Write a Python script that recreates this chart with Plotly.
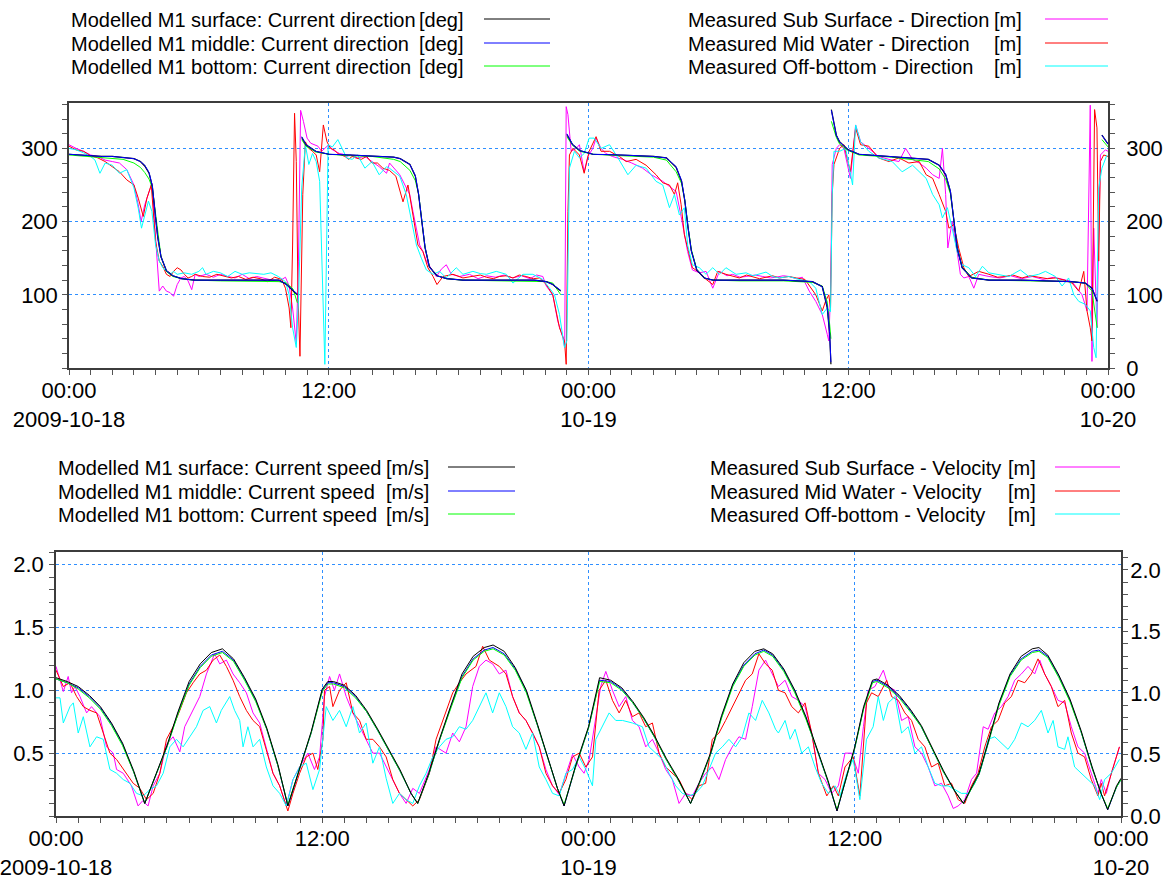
import pandas as pd
import plotly.graph_objects as go

W, H = 1173, 880
START = pd.Timestamp("2009-10-18 00:00")
FONT = "Liberation Sans, Arial, sans-serif"

# ------------------------------------------------------------------ data
X_TICK_HOURS = [0, 12, 24, 36, 48]
X_TICK_TEXT = ["00:00<br>2009-10-18", "12:00", "00:00<br>10-19", "12:00", "00:00<br>10-20"]

# Modelled current direction [deg] (None = break at 0/360 wrap)
MODEL_DIR_HOURS = [0, 0.5, 1, 1.5, 2, 2.5, 3.0, 3.3, 3.5, 3.7, 3.85, 4.0, 4.1, 4.25, 4.5, 4.8, 5.2, 5.8, 7, 8.5, 9.7,
                   10.05, 10.35, 10.55, 10.65, 10.75, 10.95, 11.4, 12.0, 13, 14, 15.0, 15.3, 15.75, 16.0, 16.15, 16.3,
                   16.45, 16.65, 17.0, 17.45, 18.2, 20, 21.5, 22.05, 22.35, 22.72, 22.85, 23.0, 23.27, 23.6, 24.2,
                   25.5, 27.0, 27.6, 28.05, 28.3, 28.45, 28.6, 28.75, 29.0, 29.35, 29.75, 31, 33, 34.35, 34.8, 35.03,
                   35.14, 35.2, 35.21, 35.22, 35.45, 35.6, 36.0, 36.5, 38, 39.7, 40.2, 40.5, 40.72, 40.88, 41.03,
                   41.26, 41.7, 42.5, 44, 46.3, 46.95, 47.26, 47.5, 47.6, 47.72, 48.0]
MODEL_DIR_SURFACE = [292, 291, 290, 289, 289, 288, 286, 282, 276, 266, 248, 205, 178, 152, 133, 126, 122, 120, 120, 120, 120,
                     114, 105, 100, None, 315, 305, 296, 292, 291, 290, 288, 286, 278, 262, 237, 200,
                     164, 138, 126, 122, 120, 120, 120, 118, 114, 105, None, 319, 305, 297, 292,
                     291, 289, 287, 274, 255, 228, 191, 160, 134, 123, 120, 120, 120, 118, 111, 82,
                     46, 5, None, 353, 318, 309, 298, 292, 289, 285, 277, 264, 241, 200, 164,
                     137, 123, 120, 120, 118, 116, 109, 91, None, 318, 306]
MODEL_DIR_MIDDLE = [292, 291, 290, 289, 289, 288, 286, 282, 277, 267, 249, 206, 179, 152, 133, 126, 122, 120, 120, 120, 120,
                    114, 106, 101, None, 316, 305, 296, 292, 291, 290, 288, 286, 278, 263, 238, 201,
                    165, 138, 126, 122, 120, 120, 120, 118, 114, 106, None, 320, 305, 297, 292,
                    291, 289, 287, 275, 256, 229, 192, 160, 134, 123, 120, 120, 120, 118, 111, 84,
                    48, 8, None, 352, 318, 309, 298, 292, 289, 285, 277, 265, 242, 201, 165,
                    137, 123, 120, 120, 118, 116, 109, 92, None, 318, 306]
MODEL_DIR_BOTTOM = [291, 290, 289, 288, 287, 285, 280, 274, 267, 258, 246, 210, 180, 152, 132, 125, 122, 120, 119, 119, 118,
                    116, 108, 89, None, 312, 303, 295, 292, 290, 289, 285, 282, 270, 256, 238, 203,
                    165, 138, 126, 122, 120, 119, 119, 118, 116, 100, None, 316, 304, 296, 292,
                    290, 288, 284, 268, 252, 230, 193, 162, 135, 123, 120, 119, 119, 117, 112, 90,
                    60, 40, None, 337, 315, 306, 297, 291, 288, 282, 272, 258, 238, 202, 166,
                    138, 124, 120, 119, 118, 116, 105, 55, None, 312, 302]

# Measured direction (hour, value)
SUB_DIR = [(0, 305), (0.33, 300), (0.67, 296), (1.0, 291), (1.33, 289), (1.67, 284), (2.0, 282), (2.33, 280), (2.67, 271),
           (3.0, 250), (3.2, 223), (3.33, 200), (3.5, 223), (3.67, 237), (3.83, 252), (4.0, 178), (4.17, 105), (4.33, 112),
           (4.5, 105), (4.67, 103), (4.83, 98), (5.0, 114), (5.17, 123), (5.33, 125), (5.5, 119), (5.67, 107), (5.83, 128),
           (6.0, 125), (6.33, 128), (6.67, 124), (7.0, 128), (7.33, 125), (7.67, 123), (8.0, 128), (8.33, 122), (8.67, 125),
           (9.0, 123), (9.33, 121), (9.67, 118), (10.0, 124), (10.17, 112), (10.33, 82), (10.5, 34), (10.6, 146), (10.7, 352),
           (10.83, 337), (11.0, 314), (11.17, 307), (11.33, 305), (11.5, 303), (11.67, 296), (11.83, 300), (12.0, 305),
           (12.17, 298), (12.33, 296), (12.5, 293), (12.67, 292), (12.83, 289), (13.0, 291), (13.33, 287), (13.67, 289),
           (14.0, 282), (14.33, 275), (14.67, 266), (14.81, 280), (15.28, 264), (15.5, 250), (15.74, 237), (15.89, 214),
           (16.05, 191), (16.2, 168), (16.35, 159), (16.51, 146), (16.82, 132), (16.97, 125), (17.2, 135), (17.43, 141),
           (17.66, 128), (18.05, 125), (18.5, 128), (18.9, 122), (19.3, 126), (19.7, 124), (20.1, 127), (20.5, 123),
           (20.9, 126), (21.3, 122), (21.6, 127), (21.89, 125), (22.05, 112), (22.35, 100), (22.58, 64), (22.82, 41),
           (22.9, 28), (22.97, 357), (23.05, 346), (23.2, 296), (23.43, 300), (23.58, 305), (23.8, 268), (23.97, 289),
           (24.2, 300), (24.35, 314), (24.58, 300), (24.8, 293), (25.1, 289), (25.57, 285), (26.0, 280), (26.5, 273),
           (26.9, 264), (27.43, 255), (27.74, 248), (28.05, 241), (28.28, 207), (28.43, 182), (28.58, 159), (28.8, 134),
           (29.12, 130), (29.43, 132), (29.74, 109), (30.05, 132), (30.4, 126), (30.66, 128), (31.0, 124), (31.28, 125),
           (31.7, 127), (32.05, 125), (32.4, 123), (32.66, 124), (33.0, 126), (33.26, 125), (33.6, 122), (33.88, 124),
           (34.2, 105), (34.5, 91), (34.8, 73), (35.03, 46), (35.1, 37), (35.18, 100), (35.26, 278), (35.45, 300),
           (35.6, 305), (35.8, 300), (36.1, 259), (36.34, 332), (36.57, 309), (36.95, 300), (37.4, 289), (37.88, 285),
           (38.34, 282), (38.65, 300), (38.97, 285), (39.28, 280), (39.6, 273), (39.9, 264), (40.2, 259), (40.35, 300),
           (40.5, 237), (40.6, 164), (40.8, 200), (41.03, 159), (41.18, 128), (41.34, 123), (41.57, 125), (41.8, 109),
           (42.03, 128), (42.5, 125), (43.0, 123), (43.5, 126), (44.0, 122), (44.5, 125), (45.0, 121), (45.5, 124),
           (46.0, 120), (46.34, 118), (46.8, 100), (47.03, 78), (47.18, 359), (47.26, 9), (47.34, 191), (47.49, 55),
           (47.65, 291), (47.88, 298), (48.0, 296)]
MID_DIR = [(0, 303), (0.33, 298), (0.67, 296), (1.0, 290), (1.33, 287), (1.67, 282), (2.0, 275), (2.33, 268), (2.67, 257),
           (3.0, 250), (3.2, 232), (3.43, 207), (3.6, 232), (3.8, 250), (4.0, 173), (4.17, 146), (4.33, 139), (4.5, 128),
           (4.67, 125), (4.83, 132), (5.0, 137), (5.17, 134), (5.33, 128), (5.5, 123), (5.67, 125), (5.83, 128), (6.17, 125),
           (6.5, 124), (6.83, 128), (7.17, 125), (7.5, 123), (7.83, 125), (8.17, 121), (8.5, 124), (8.83, 122), (9.17, 118),
           (9.5, 124), (9.83, 121), (10.0, 109), (10.17, 82), (10.25, 55), (10.33, 168), (10.42, 348), (10.5, 282),
           (10.58, 100), (10.67, 16), (10.8, 237), (10.92, 309), (11.08, 300), (11.25, 296), (11.42, 291), (11.58, 268),
           (11.75, 332), (11.92, 309), (12.08, 300), (12.25, 298), (12.42, 293), (12.58, 291), (12.75, 289), (12.92, 285),
           (13.08, 289), (13.25, 287), (13.5, 285), (13.75, 289), (14.0, 280), (14.25, 280), (14.5, 273), (14.8, 270),
           (15.1, 262), (15.43, 227), (15.66, 250), (15.89, 209), (16.12, 168), (16.35, 159), (16.58, 137), (16.82, 125),
           (17.0, 114), (17.28, 125), (17.74, 128), (18.2, 123), (18.66, 125), (19.0, 127), (19.28, 124), (19.6, 122),
           (19.89, 125), (20.2, 126), (20.51, 123), (20.8, 127), (21.12, 125), (21.45, 122), (21.74, 123), (22.05, 114),
           (22.35, 100), (22.66, 55), (22.89, 37), (22.97, 5), (23.05, 214), (23.12, 291), (23.28, 300), (23.58, 291),
           (23.8, 266), (24.03, 296), (24.35, 316), (24.58, 296), (24.97, 296), (25.43, 289), (25.74, 282), (26.2, 285),
           (26.66, 277), (27.12, 264), (27.43, 253), (27.74, 250), (27.97, 237), (28.12, 253), (28.28, 223), (28.43, 182),
           (28.58, 164), (28.8, 137), (29.05, 132), (29.35, 123), (29.74, 114), (29.97, 132), (30.35, 128), (30.66, 125),
           (30.97, 123), (31.3, 127), (31.58, 125), (31.9, 122), (32.2, 124), (32.5, 126), (32.82, 123), (33.26, 125),
           (33.6, 123), (34.0, 121), (34.5, 100), (34.8, 78), (34.95, 91), (35.1, 100), (35.18, 82), (35.26, 237),
           (35.34, 278), (35.6, 300), (35.8, 305), (36.1, 268), (36.34, 328), (36.57, 305), (36.95, 303), (37.4, 287),
           (37.88, 282), (38.34, 287), (38.8, 280), (39.28, 282), (39.6, 264), (39.9, 259), (40.2, 237), (40.5, 214),
           (40.65, 191), (40.88, 196), (41.1, 164), (41.34, 137), (41.57, 125), (42.03, 132), (42.5, 128), (42.9, 124),
           (43.26, 125), (43.6, 127), (44.03, 123), (44.4, 126), (44.8, 124), (45.2, 122), (45.57, 123), (46.0, 120),
           (46.34, 116), (46.65, 105), (46.88, 132), (47.03, 78), (47.18, 55), (47.26, 37), (47.38, 353), (47.49, 328),
           (47.57, 146), (47.65, 282), (47.8, 291), (48.0, 289)]
OFF_DIR = [(0, 300), (0.33, 298), (0.67, 294), (1.0, 289), (1.2, 284), (1.43, 266), (1.67, 280), (2.0, 277), (2.33, 266),
           (2.67, 271), (3.0, 246), (3.2, 218), (3.35, 191), (3.5, 209), (3.67, 228), (3.83, 214), (4.0, 168), (4.17, 146),
           (4.33, 137), (4.5, 132), (4.67, 128), (4.83, 132), (5.0, 128), (5.33, 130), (5.67, 128), (6.0, 132), (6.17, 137),
           (6.33, 128), (6.67, 132), (7.0, 130), (7.33, 125), (7.67, 132), (8.0, 128), (8.33, 130), (8.67, 129), (9.0, 128),
           (9.33, 130), (9.67, 125), (10.0, 118), (10.17, 100), (10.33, 55), (10.5, 28), (10.6, 91), (10.75, 246),
           (10.92, 305), (11.08, 278), (11.25, 293), (11.42, 282), (11.58, 255), (11.82, 5), (11.97, 305), (12.17, 302),
           (12.42, 312), (12.67, 298), (12.83, 287), (13.08, 285), (13.33, 291), (13.67, 273), (14.0, 282), (14.33, 264),
           (14.67, 275), (14.8, 273), (15.28, 262), (15.58, 237), (15.82, 200), (16.05, 168), (16.28, 150), (16.51, 134),
           (16.82, 128), (17.12, 132), (17.43, 123), (17.89, 137), (18.2, 128), (18.66, 132), (19.0, 129), (19.28, 128),
           (19.74, 132), (20.2, 128), (20.51, 116), (20.97, 128), (21.43, 128), (21.89, 121), (22.2, 109), (22.43, 100),
           (22.66, 73), (22.89, 28), (23.0, 37), (23.12, 273), (23.35, 296), (23.58, 287), (23.8, 293), (24.03, 314),
           (24.26, 314), (24.58, 300), (24.97, 305), (25.28, 291), (25.82, 264), (26.2, 277), (26.66, 273), (27.12, 255),
           (27.43, 250), (27.74, 219), (27.97, 237), (28.2, 209), (28.43, 219), (28.58, 168), (28.8, 141), (29.12, 137),
           (29.43, 128), (29.74, 137), (30.05, 128), (30.35, 137), (30.82, 128), (31.28, 130), (31.6, 126), (31.89, 128),
           (32.2, 131), (32.51, 125), (32.8, 123), (33.26, 125), (33.72, 121), (34.2, 118), (34.5, 109), (34.8, 73),
           (35.03, 82), (35.18, 77), (35.26, 237), (35.34, 296), (35.6, 296), (35.88, 300), (36.2, 250), (36.34, 332),
           (36.57, 309), (36.95, 296), (37.4, 287), (38.03, 282), (38.49, 268), (38.97, 277), (39.28, 268), (39.6, 259),
           (39.9, 237), (40.2, 223), (40.35, 205), (40.58, 219), (40.8, 191), (41.03, 159), (41.26, 141), (41.57, 137),
           (41.88, 125), (42.2, 139), (42.5, 130), (42.95, 128), (43.42, 125), (43.95, 134), (44.34, 125), (44.8, 128),
           (45.11, 132), (45.57, 125), (45.88, 112), (46.18, 123), (46.42, 100), (46.65, 91), (46.95, 87), (47.18, 78),
           (47.34, 28), (47.45, 14), (47.57, 246), (47.72, 273), (47.95, 291)]

# Modelled current speed [m/s]
MODEL_SPD_HOURS = [0, 0.5, 1, 1.5, 2, 2.5, 3, 3.5, 4.0, 4.5, 5, 5.5, 6, 6.5, 7, 7.5, 8, 8.5, 9, 9.5, 10, 10.45, 11, 11.5,
                   12, 12.25, 12.5, 13, 13.5, 14, 14.5, 15, 15.5, 16, 16.3, 16.8, 17.3, 17.8, 18.3, 18.8, 19.3, 19.7,
                   20.2, 20.7, 21.2, 21.7, 22.2, 22.6, 22.9, 23.4, 24, 24.5, 25, 25.5, 26, 26.5, 27, 27.5, 28, 28.6,
                   29, 29.5, 30, 30.5, 31, 31.5, 31.9, 32.3, 32.8, 33.3, 33.8, 34.3, 34.8, 35.2, 35.6, 36, 36.4, 36.8,
                   37, 37.5, 38, 38.5, 39, 39.5, 40, 40.5, 40.9, 41.3, 41.6, 42, 42.5, 43, 43.5, 44, 44.3, 44.7, 45.2,
                   45.7, 46.2, 46.7, 47.1, 47.4, 47.8, 48]
MODEL_SPD_SURFACE = [1.10, 1.07, 1.03, 0.96, 0.87, 0.74, 0.58, 0.36, 0.10, 0.33, 0.56, 0.83, 1.07, 1.21, 1.30, 1.33, 1.25,
                     1.10, 0.93, 0.70, 0.41, 0.08, 0.39, 0.67, 1.01, 1.07, 1.07, 1.04, 0.96, 0.84, 0.69, 0.53, 0.37,
                     0.18, 0.10, 0.34, 0.62, 0.88, 1.13, 1.27, 1.34, 1.36, 1.31, 1.18, 1.00, 0.73, 0.45, 0.22, 0.08,
                     0.39, 0.71, 1.10, 1.08, 1.02, 0.91, 0.78, 0.63, 0.46, 0.31, 0.10, 0.27, 0.50, 0.80, 1.05, 1.22,
                     1.31, 1.33, 1.29, 1.17, 1.00, 0.79, 0.54, 0.28, 0.04, 0.30, 0.55, 0.87, 1.08, 1.09, 1.04, 0.96,
                     0.85, 0.72, 0.54, 0.36, 0.20, 0.10, 0.24, 0.34, 0.58, 0.90, 1.13, 1.27, 1.33, 1.34, 1.28, 1.12,
                     0.93, 0.68, 0.39, 0.18, 0.05, 0.24, 0.30]
MODEL_SPD_MIDDLE = [1.09, 1.06, 1.02, 0.95, 0.86, 0.73, 0.57, 0.35, 0.10, 0.32, 0.55, 0.82, 1.05, 1.19, 1.28, 1.31, 1.24,
                    1.09, 0.92, 0.69, 0.40, 0.08, 0.38, 0.66, 1.00, 1.06, 1.06, 1.03, 0.95, 0.83, 0.68, 0.52, 0.36,
                    0.18, 0.10, 0.33, 0.61, 0.87, 1.11, 1.25, 1.32, 1.34, 1.29, 1.17, 0.99, 0.72, 0.44, 0.22, 0.08,
                    0.38, 0.70, 1.08, 1.07, 1.01, 0.90, 0.77, 0.62, 0.45, 0.30, 0.10, 0.26, 0.49, 0.79, 1.04, 1.20,
                    1.29, 1.32, 1.28, 1.16, 0.99, 0.78, 0.53, 0.27, 0.04, 0.29, 0.54, 0.86, 1.07, 1.08, 1.03, 0.95,
                    0.84, 0.71, 0.53, 0.35, 0.20, 0.10, 0.23, 0.33, 0.57, 0.89, 1.12, 1.25, 1.31, 1.32, 1.27, 1.11,
                    0.92, 0.67, 0.38, 0.18, 0.05, 0.23, 0.29]
MODEL_SPD_BOTTOM = [1.09, 1.06, 1.01, 0.94, 0.85, 0.72, 0.56, 0.35, 0.10, 0.32, 0.55, 0.81, 1.04, 1.18, 1.27, 1.30, 1.23,
                    1.08, 0.91, 0.69, 0.40, 0.09, 0.38, 0.66, 0.99, 1.05, 1.05, 1.02, 0.94, 0.83, 0.68, 0.52, 0.36,
                    0.18, 0.10, 0.33, 0.61, 0.86, 1.10, 1.24, 1.31, 1.33, 1.28, 1.16, 0.98, 0.72, 0.44, 0.22, 0.09,
                    0.38, 0.70, 1.07, 1.06, 1.00, 0.90, 0.77, 0.62, 0.45, 0.30, 0.10, 0.26, 0.49, 0.78, 1.03, 1.19,
                    1.28, 1.31, 1.27, 1.15, 0.98, 0.77, 0.53, 0.27, 0.05, 0.29, 0.54, 0.85, 1.06, 1.07, 1.02, 0.94,
                    0.83, 0.71, 0.53, 0.35, 0.20, 0.10, 0.23, 0.33, 0.57, 0.88, 1.11, 1.24, 1.30, 1.31, 1.26, 1.10,
                    0.91, 0.67, 0.38, 0.18, 0.06, 0.23, 0.29]

# Measured velocity (hour, value)
SUB_SPD = [(0.00, 1.19), (0.18, 1.08), (0.33, 0.99), (0.55, 1.11), (0.70, 0.98), (0.85, 1.03), (1.08, 0.95), (1.38, 0.82),
           (1.60, 0.87), (1.98, 0.79), (2.28, 0.55), (2.58, 0.50), (2.73, 0.37), (3.03, 0.34), (3.40, 0.24), (3.70, 0.08),
           (3.90, 0.12), (4.15, 0.08), (4.38, 0.24), (4.68, 0.34), (4.98, 0.57), (5.28, 0.63), (5.58, 0.51), (5.80, 0.71),
           (6.10, 0.82), (6.48, 0.95), (6.78, 1.13), (7.15, 1.29), (7.38, 1.21), (7.68, 1.24), (7.98, 1.13), (8.28, 1.06),
           (8.58, 0.98), (8.88, 0.82), (9.18, 0.74), (9.48, 0.53), (9.78, 0.34), (10.08, 0.24), (10.38, 0.08),
           (10.68, 0.29), (10.98, 0.39), (11.35, 0.50), (11.65, 0.37), (11.88, 0.47), (12.10, 0.95), (12.33, 1.11),
           (12.55, 1.00), (12.78, 1.13), (13.08, 0.95), (13.38, 0.82), (13.68, 0.71), (13.98, 0.61), (14.28, 0.50),
           (14.58, 0.50), (15.03, 0.34), (15.48, 0.18), (15.78, 0.10), (16.08, 0.22), (16.38, 0.18), (16.83, 0.37),
           (17.13, 0.55), (17.58, 0.50), (17.88, 0.66), (18.18, 0.59), (18.48, 0.71), (18.78, 1.03), (19.08, 1.19),
           (19.38, 1.24), (19.68, 1.21), (19.98, 1.13), (20.28, 1.16), (20.58, 0.95), (20.88, 0.82), (21.18, 0.76),
           (21.48, 0.66), (21.78, 0.55), (22.08, 0.37), (22.38, 0.24), (22.68, 0.17), (22.98, 0.34), (23.28, 0.49),
           (23.58, 0.39), (23.80, 0.34), (24.03, 0.45), (24.33, 0.79), (24.55, 1.03), (24.78, 1.15), (25.08, 1.00),
           (25.38, 0.87), (25.68, 0.95), (25.98, 0.76), (26.28, 0.71), (26.58, 0.55), (26.88, 0.61), (27.18, 0.50),
           (27.48, 0.37), (27.78, 0.29), (28.08, 0.10), (28.38, 0.18), (28.68, 0.16), (28.98, 0.26), (29.28, 0.34),
           (29.58, 0.39), (29.88, 0.29), (30.18, 0.45), (30.48, 0.55), (30.78, 0.63), (31.08, 0.61), (31.38, 0.87),
           (31.68, 1.16), (31.98, 1.24), (32.28, 1.13), (32.56, 1.03), (32.86, 1.08), (33.16, 0.95), (33.46, 0.92),
           (33.76, 0.87), (34.06, 0.66), (34.36, 0.34), (34.66, 0.29), (34.96, 0.18), (35.26, 0.24), (35.56, 0.50),
           (35.86, 0.50), (36.16, 0.34), (36.39, 0.71), (36.61, 1.00), (36.91, 1.03), (37.29, 1.16), (37.51, 1.03),
           (37.81, 1.00), (38.11, 0.76), (38.41, 0.79), (38.71, 0.55), (39.01, 0.50), (39.31, 0.39), (39.61, 0.24),
           (39.91, 0.26), (40.21, 0.16), (40.44, 0.06), (40.66, 0.08), (40.96, 0.13), (41.26, 0.29), (41.49, 0.34),
           (41.79, 0.71), (42.01, 0.69), (42.31, 0.82), (42.61, 0.87), (42.91, 0.95), (43.21, 1.08), (43.51, 1.13),
           (43.81, 1.19), (44.11, 1.13), (44.34, 1.24), (44.56, 1.13), (44.86, 1.03), (45.16, 0.92), (45.46, 0.90),
           (45.76, 0.71), (46.06, 0.55), (46.36, 0.50), (46.66, 0.34), (46.96, 0.18), (47.11, 0.29), (47.34, 0.18),
           (47.56, 0.34), (47.93, 0.55)]
MID_SPD = [(0.00, 1.16), (0.33, 1.03), (0.63, 1.06), (0.93, 0.95), (1.23, 0.87), (1.53, 0.84), (1.83, 0.82), (2.13, 0.66),
           (2.43, 0.50), (2.73, 0.45), (3.18, 0.34), (3.48, 0.26), (3.78, 0.22), (4.08, 0.13), (4.38, 0.18), (4.68, 0.34),
           (4.98, 0.61), (5.28, 0.71), (5.58, 0.84), (5.88, 0.98), (6.18, 1.06), (6.48, 1.13), (6.78, 1.16), (7.08, 1.24),
           (7.38, 1.28), (7.68, 1.19), (7.98, 1.08), (8.28, 0.95), (8.58, 0.84), (8.88, 0.76), (9.18, 0.71), (9.48, 0.53),
           (9.78, 0.34), (10.08, 0.24), (10.45, 0.04), (10.68, 0.18), (10.98, 0.34), (11.28, 0.47), (11.58, 0.50),
           (11.80, 0.37), (12.03, 0.61), (12.10, 1.00), (12.33, 1.03), (12.48, 0.87), (12.78, 1.00), (13.08, 1.06),
           (13.38, 0.82), (13.68, 0.76), (13.98, 0.61), (14.28, 0.61), (14.58, 0.55), (14.88, 0.47), (15.18, 0.29),
           (15.48, 0.18), (15.78, 0.13), (16.08, 0.08), (16.38, 0.13), (16.83, 0.34), (17.13, 0.61), (17.58, 0.84),
           (17.88, 0.98), (18.18, 1.06), (18.48, 1.13), (18.93, 1.19), (19.23, 1.35), (19.53, 1.24), (19.98, 1.19),
           (20.28, 1.13), (20.58, 0.95), (20.88, 0.82), (21.18, 0.76), (21.48, 0.66), (21.78, 0.55), (22.08, 0.34),
           (22.38, 0.24), (22.68, 0.18), (22.98, 0.29), (23.28, 0.47), (23.58, 0.50), (23.88, 0.39), (24.18, 0.47),
           (24.48, 1.00), (24.78, 1.08), (25.08, 0.92), (25.38, 0.82), (25.68, 0.92), (25.98, 0.79), (26.28, 0.82),
           (26.58, 0.71), (26.88, 0.74), (27.18, 0.50), (27.48, 0.39), (27.78, 0.34), (28.08, 0.29), (28.38, 0.18),
           (28.68, 0.13), (28.98, 0.24), (29.28, 0.26), (29.58, 0.61), (29.88, 0.66), (30.18, 0.76), (30.48, 0.87),
           (30.78, 0.98), (31.08, 1.08), (31.38, 1.13), (31.68, 1.29), (31.98, 1.21), (32.28, 1.16), (32.56, 1.00),
           (32.86, 0.98), (33.16, 0.87), (33.46, 0.82), (33.76, 0.90), (34.06, 0.66), (34.36, 0.34), (34.74, 0.16),
           (35.04, 0.24), (35.26, 0.16), (35.56, 0.39), (35.93, 0.47), (36.23, 0.16), (36.53, 0.90), (36.76, 0.98),
           (37.06, 0.95), (37.44, 1.08), (37.66, 0.95), (37.96, 0.92), (38.26, 0.82), (38.56, 0.76), (38.86, 0.61),
           (39.16, 0.55), (39.46, 0.39), (39.76, 0.42), (40.06, 0.24), (40.36, 0.26), (40.66, 0.13), (40.96, 0.10),
           (41.26, 0.24), (41.56, 0.34), (41.86, 0.55), (42.16, 0.71), (42.46, 0.76), (42.76, 0.90), (43.06, 0.95),
           (43.36, 1.08), (43.66, 1.06), (43.96, 1.13), (44.26, 1.25), (44.56, 1.13), (44.86, 1.03), (45.16, 0.87),
           (45.46, 0.92), (45.76, 0.66), (46.06, 0.50), (46.36, 0.47), (46.66, 0.29), (46.96, 0.16), (47.11, 0.26),
           (47.26, 0.16), (47.56, 0.34), (47.93, 0.55)]
OFF_SPD = [(0.00, 0.94), (0.18, 0.94), (0.33, 0.74), (0.63, 0.87), (0.78, 0.90), (1.00, 0.66), (1.23, 0.79), (1.53, 0.55),
           (1.83, 0.63), (2.13, 0.61), (2.43, 0.37), (2.73, 0.34), (3.03, 0.29), (3.33, 0.26), (3.63, 0.18), (3.93, 0.16),
           (4.23, 0.21), (4.53, 0.24), (4.83, 0.34), (5.13, 0.55), (5.43, 0.61), (5.73, 0.55), (6.03, 0.63), (6.33, 0.71),
           (6.63, 0.84), (6.93, 0.87), (7.23, 0.74), (7.45, 0.84), (7.83, 0.95), (8.05, 0.84), (8.28, 0.76), (8.43, 0.55),
           (8.65, 0.71), (8.88, 0.55), (9.18, 0.61), (9.48, 0.39), (9.78, 0.24), (10.08, 0.18), (10.38, 0.08),
           (10.68, 0.29), (10.98, 0.39), (11.28, 0.42), (11.58, 0.21), (11.88, 0.37), (12.18, 0.87), (12.48, 0.76),
           (12.78, 0.84), (13.08, 0.71), (13.38, 0.87), (13.68, 0.66), (13.98, 0.74), (14.28, 0.42), (14.58, 0.55),
           (14.88, 0.30), (15.18, 0.10), (15.48, 0.18), (15.78, 0.13), (16.08, 0.10), (16.38, 0.24), (16.68, 0.34),
           (16.98, 0.47), (17.28, 0.55), (17.58, 0.61), (17.88, 0.63), (18.18, 0.71), (18.48, 0.69), (18.78, 0.76),
           (19.08, 0.87), (19.38, 0.98), (19.68, 0.82), (19.98, 0.98), (20.28, 0.87), (20.58, 0.71), (20.88, 0.66),
           (21.18, 0.53), (21.48, 0.66), (21.78, 0.39), (22.08, 0.29), (22.38, 0.18), (22.68, 0.16), (22.98, 0.34),
           (23.28, 0.37), (23.58, 0.47), (23.88, 0.37), (24.18, 0.24), (24.33, 0.61), (24.63, 0.71), (24.93, 0.82),
           (25.23, 0.76), (25.53, 0.76), (25.98, 0.74), (26.43, 0.71), (26.73, 0.55), (27.03, 0.50), (27.33, 0.45),
           (27.63, 0.34), (27.93, 0.24), (28.23, 0.18), (28.53, 0.16), (28.83, 0.18), (29.13, 0.24), (29.43, 0.37),
           (29.73, 0.50), (30.03, 0.55), (30.33, 0.61), (30.63, 0.55), (30.93, 0.63), (31.23, 0.82), (31.53, 0.76),
           (31.83, 0.92), (32.13, 0.82), (32.43, 0.69), (32.56, 0.66), (32.86, 0.76), (33.09, 0.61), (33.31, 0.69),
           (33.61, 0.50), (33.91, 0.55), (34.21, 0.39), (34.51, 0.26), (34.81, 0.18), (35.11, 0.24), (35.34, 0.16),
           (35.64, 0.34), (35.93, 0.45), (36.23, 0.13), (36.53, 0.61), (36.83, 0.71), (37.06, 0.95), (37.29, 0.76),
           (37.51, 0.90), (37.81, 0.95), (38.11, 0.66), (38.41, 0.71), (38.71, 0.50), (39.01, 0.55), (39.31, 0.39),
           (39.61, 0.26), (39.91, 0.24), (40.21, 0.24), (40.51, 0.21), (40.81, 0.18), (41.11, 0.18), (41.41, 0.26),
           (41.71, 0.39), (42.01, 0.61), (42.31, 0.63), (42.61, 0.58), (42.91, 0.53), (43.21, 0.61), (43.51, 0.74),
           (43.81, 0.71), (44.11, 0.76), (44.41, 0.84), (44.71, 0.66), (44.94, 0.76), (45.16, 0.55), (45.46, 0.53),
           (45.61, 0.63), (45.91, 0.39), (46.21, 0.34), (46.51, 0.29), (46.81, 0.24), (47.04, 0.13), (47.26, 0.29),
           (47.56, 0.34), (47.93, 0.45)]

# Legend texts
DIR_MODEL_LABELS = ["Modelled M1 surface: Current direction", "Modelled M1 middle: Current direction",
                    "Modelled M1 bottom: Current direction"]
DIR_MEAS_LABELS = ["Measured Sub Surface - Direction", "Measured Mid Water - Direction",
                   "Measured Off-bottom - Direction"]
SPD_MODEL_LABELS = ["Modelled M1 surface: Current speed", "Modelled M1 middle: Current speed",
                    "Modelled M1 bottom: Current speed"]
SPD_MEAS_LABELS = ["Measured Sub Surface - Velocity", "Measured Mid Water - Velocity",
                   "Measured Off-bottom - Velocity"]

MODEL_COLORS = ["#000000", "#0000ff", "#00ff00"]
MEAS_COLORS = ["#ff00ff", "#ff0000", "#00ffff"]


# ------------------------------------------------------------------ helpers
def to_time(hours):
    return [START + pd.Timedelta(hours=h) for h in hours]


def px_x(p):
    return p / W


def px_y(p):
    return 1 - p / H


fig = go.Figure()


def add_line(hours, values, color, xa, ya, width=1.0, opacity=1.0):
    fig.add_trace(go.Scatter(x=to_time(hours), y=values, mode="lines",
                             line=dict(color=color, width=width), opacity=opacity,
                             xaxis=xa, yaxis=ya, showlegend=False,
                             connectgaps=False, hoverinfo="skip"))


# ---- direction panel
for pairs, col in zip([SUB_DIR, MID_DIR, OFF_DIR], MEAS_COLORS):
    add_line([p[0] for p in pairs], [p[1] for p in pairs], col, "x", "y")
add_line(MODEL_DIR_HOURS, MODEL_DIR_BOTTOM, MODEL_COLORS[2], "x", "y")
add_line(MODEL_DIR_HOURS, MODEL_DIR_SURFACE, MODEL_COLORS[0], "x", "y", 1.2)
add_line(MODEL_DIR_HOURS, MODEL_DIR_MIDDLE, MODEL_COLORS[1], "x", "y")
# invisible companion so that the right-hand axis is drawn
add_line(MODEL_DIR_HOURS, MODEL_DIR_SURFACE, MODEL_COLORS[0], "x", "y3", opacity=0)

# ---- speed panel
for pairs, col in zip([SUB_SPD, MID_SPD, OFF_SPD], MEAS_COLORS):
    add_line([p[0] for p in pairs], [p[1] for p in pairs], col, "x2", "y2")
add_line(MODEL_SPD_HOURS, MODEL_SPD_MIDDLE, MODEL_COLORS[1], "x2", "y2")
add_line(MODEL_SPD_HOURS, MODEL_SPD_BOTTOM, MODEL_COLORS[2], "x2", "y2")
add_line(MODEL_SPD_HOURS, MODEL_SPD_SURFACE, MODEL_COLORS[0], "x2", "y2")
add_line(MODEL_SPD_HOURS, MODEL_SPD_SURFACE, MODEL_COLORS[0], "x2", "y4", opacity=0)

# ------------------------------------------------------------------ axes
GRID = "#2f8fff"
FRAME = "#3c3c3c"
TICKC = "#555555"
tickfont = dict(family=FONT, size=22, color="#000000")

x_range = [START, START + pd.Timedelta(hours=48)]
x_common = dict(type="date", range=x_range, tickmode="array",
                tickvals=to_time(X_TICK_HOURS), ticktext=X_TICK_TEXT,
                ticks="outside", ticklen=5, tickwidth=1, tickcolor=TICKC,
                minor=dict(ticks="outside", ticklen=5, tickwidth=1, tickcolor=TICKC,
                           dtick=3600000, tick0=START, showgrid=False),
                showgrid=True, gridcolor=GRID, griddash="dot", gridwidth=1,
                showline=True, linecolor=FRAME, linewidth=1.5, mirror=True,
                zeroline=False, tickfont=tickfont, automargin=False, fixedrange=True,
                ticklabeloverflow="allow", ticklabelstandoff=-3)


def y_axis(domain, rng, vals, texts, minor_dtick, side="left", overlay=None, anchor=None, grid=True, standoff=0):
    d = dict(range=rng, tickmode="array", tickvals=vals, ticktext=texts,
             ticks="outside", ticklen=5, tickwidth=1, tickcolor=TICKC,
             minor=dict(ticks="outside", ticklen=5, tickwidth=1, tickcolor=TICKC,
                        dtick=minor_dtick, tick0=0, showgrid=False),
             showgrid=grid, gridcolor=GRID, griddash="dot", gridwidth=1,
             showline=True, linecolor=FRAME, linewidth=1.5,
             zeroline=False, tickfont=tickfont, automargin=False, fixedrange=True, side=side,
             ticklabeloverflow="allow", ticklabelstandoff=standoff)
    if overlay:
        d["overlaying"] = overlay
        d["anchor"] = anchor
    else:
        d["domain"] = domain
        d["anchor"] = anchor
        d["mirror"] = True
    return d


top_dom_x = [px_x(69), px_x(1108)]
top_dom_y = [px_y(368), px_y(103)]
bot_dom_x = [px_x(56), px_x(1121)]
bot_dom_y = [px_y(816), px_y(552)]

layout = dict(
    width=W, height=H, autosize=False, template="none",
    margin=dict(l=0, r=0, t=0, b=0, pad=0),
    paper_bgcolor="white", plot_bgcolor="white",
    font=dict(family=FONT, size=20, color="#000000"),
    showlegend=False,
    xaxis=dict(x_common, domain=top_dom_x, anchor="y"),
    yaxis=y_axis(top_dom_y, [0, 362], [100, 200, 300], ["100", "200", "300"], 20, anchor="x", standoff=0),
    yaxis3=y_axis(None, [0, 362], [0, 100, 200, 300], ["0", "100", "200", "300"], 20,
                  side="right", overlay="y", anchor="x", grid=False, standoff=7),
    xaxis2=dict(x_common, domain=bot_dom_x, anchor="y2"),
    yaxis2=y_axis(bot_dom_y, [0, 2.1], [0.5, 1.0, 1.5, 2.0], ["0.5", "1.0", "1.5", "2.0"], 0.1, anchor="x2",
                  standoff=1),
    yaxis4=y_axis(None, [0, 2.145], [0, 0.5, 1.0, 1.5, 2.0], ["0.0", "0.5", "1.0", "1.5", "2.0"], 0.1,
                  side="right", overlay="y2", anchor="x2", grid=False, standoff=-2),
)
fig.update_layout(**layout)

# ------------------------------------------------------------------ legends (text + sample line)
legend_groups = [
    (DIR_MODEL_LABELS, "[deg]", MODEL_COLORS, 69.5, 464, (484, 550), [19, 43, 66]),
    (DIR_MEAS_LABELS, "[m]", MEAS_COLORS, 687, 1023, (1045, 1108), [19, 43, 66]),
    (SPD_MODEL_LABELS, "[m/s]", MODEL_COLORS, 56.5, 430, (448, 515), [467, 491, 514]),
    (SPD_MEAS_LABELS, "[m]", MEAS_COLORS, 709, 1037, (1055, 1120), [467, 491, 514]),
]
LEG_FONT = dict(family=FONT, size=20, color="#000000")
annotations = []
shapes = []
for labels, unit, colors, xl, xr, (l0, l1), rows in legend_groups:
    for lab, col, yy in zip(labels, colors, rows):
        annotations.append(dict(text=lab, x=px_x(xl), y=px_y(yy + 1), xref="paper", yref="paper",
                                xanchor="left", yanchor="middle", showarrow=False, font=LEG_FONT, borderpad=0))
        annotations.append(dict(text=unit, x=px_x(xr), y=px_y(yy + 1), xref="paper", yref="paper",
                                xanchor="right", yanchor="middle", showarrow=False, font=LEG_FONT, borderpad=0))
        shapes.append(dict(type="line", xref="paper", yref="paper", x0=px_x(l0), x1=px_x(l1),
                           y0=px_y(yy), y1=px_y(yy), line=dict(color=col, width=1)))
fig.update_layout(annotations=annotations, shapes=shapes)

fig.write_html("out.html")
